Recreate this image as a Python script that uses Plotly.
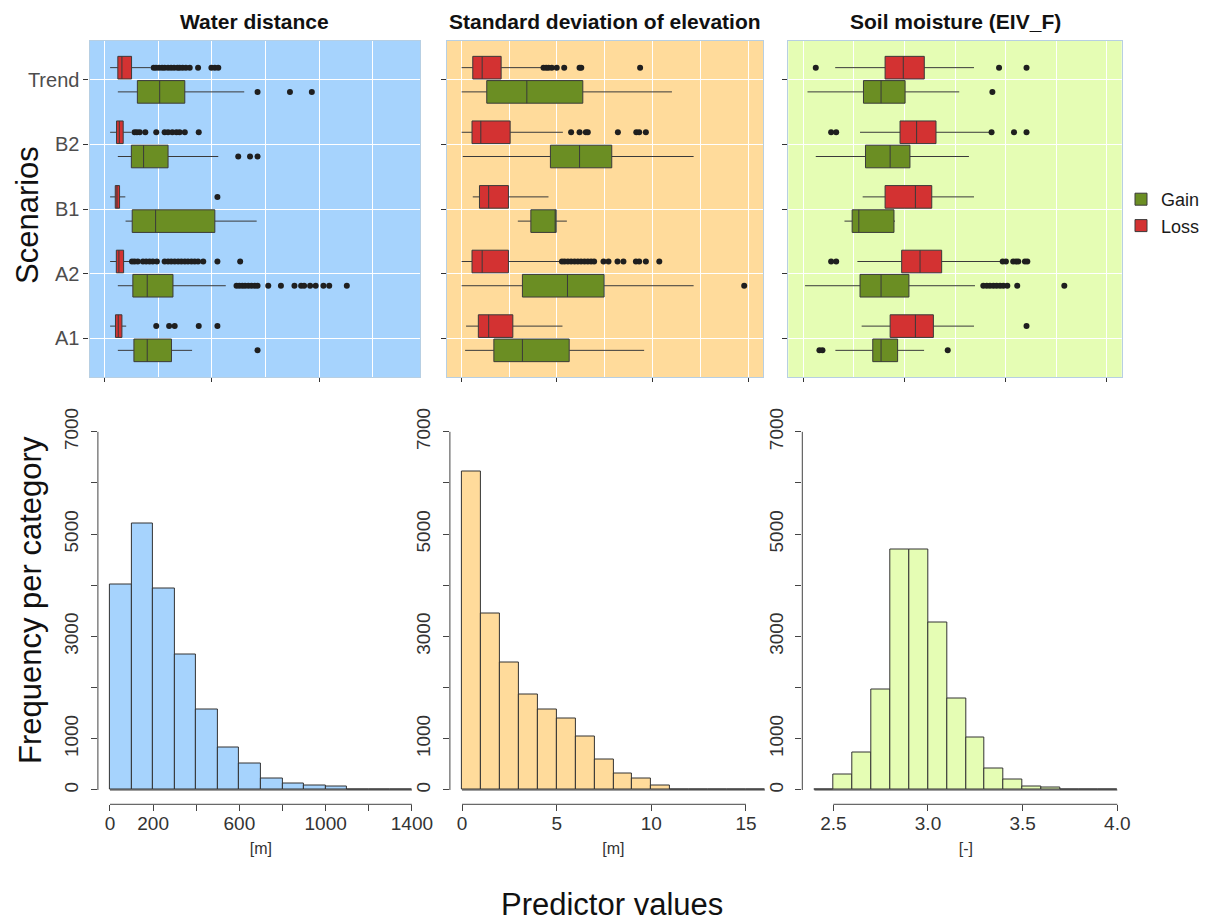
import plotly.graph_objects as go

FONT = "Liberation Sans, Arial, sans-serif"

scenarios = ["A1", "A2", "B1", "B2", "Trend"]

# ---------------- Box plot statistics (order: A1, A2, B1, B2, Trend) ----------------
# Water distance [m]
wd_gain_lf = [62, 62, 98, 62, 62]
wd_gain_q1 = [137, 132, 129, 125, 153]
wd_gain_med = [199, 199, 238, 182, 257]
wd_gain_q3 = [312, 319, 514, 296, 374]
wd_gain_uf = [408, 565, 709, 530, 651]
wd_gain_out = [
    [713],
    [615, 628, 642, 655, 670, 685, 700, 713, 763, 822, 885, 916, 930, 958, 984, 1020, 1047, 1129],
    [],
    [623, 678, 713],
    [713, 864, 966],
]
wd_loss_lf = [26, 26, 26, 26, 26]
wd_loss_q1 = [51, 55, 50, 56, 62]
wd_loss_med = [64, 67, 58, 69, 81]
wd_loss_q3 = [81, 89, 70, 87, 126]
wd_loss_uf = [101, 121, 97, 125, 215]
wd_loss_out = [
    [241, 301, 327, 439, 526],
    [128, 140, 155, 179, 194, 210, 225, 244, 280, 296, 311, 327, 343, 358, 374, 389, 405, 420, 436, 460, 526, 632],
    [526],
    [140, 151, 164, 190, 241, 280, 296, 316, 335, 350, 374, 439],
    [229, 240, 254, 268, 280, 296, 310, 324, 340, 350, 364, 379, 397, 436, 498, 514, 530],
]

# Standard deviation of elevation [m]
sd_gain_lf = [0.21, 0.03, 2.96, 0.09, 0.03]
sd_gain_q1 = [1.71, 3.20, 3.64, 4.66, 1.34]
sd_gain_med = [3.20, 5.55, 4.91, 6.18, 3.43]
sd_gain_q3 = [5.64, 7.46, 4.96, 7.86, 6.35]
sd_gain_uf = [9.55, 12.13, 5.52, 12.13, 11.0]
sd_gain_out = [[], [14.77], [], [], []]
sd_loss_lf = [0.26, 0.03, 0.61, 0.03, 0.03]
sd_loss_q1 = [0.90, 0.57, 0.96, 0.57, 0.61]
sd_loss_med = [1.44, 1.10, 1.44, 1.03, 1.10]
sd_loss_q3 = [2.70, 2.47, 2.47, 2.56, 2.09]
sd_loss_uf = [5.29, 5.20, 4.56, 5.31, 4.21]
sd_loss_out = [
    [],
    [5.26, 5.40, 5.57, 5.74, 5.92, 6.09, 6.26, 6.44, 6.61, 6.78, 6.94, 7.43, 7.69, 8.16, 8.47, 9.12, 9.29, 9.64, 10.34],
    [],
    [5.74, 6.18, 6.51, 6.61, 8.18, 9.14, 9.29, 9.64],
    [4.30, 4.44, 4.56, 4.73, 4.99, 5.38, 6.18, 6.27, 9.34],
]

# Soil moisture (EIV_F) [-]
sm_gain_lf = [2.658, 2.508, 2.703, 2.561, 2.520]
sm_gain_q1 = [2.843, 2.780, 2.741, 2.807, 2.797]
sm_gain_med = [2.884, 2.884, 2.774, 2.929, 2.884]
sm_gain_q3 = [2.966, 3.022, 2.948, 3.027, 3.003]
sm_gain_uf = [3.097, 3.349, 2.953, 3.319, 3.271]
sm_gain_out = [
    [2.579, 2.594, 3.214],
    [3.390, 3.407, 3.423, 3.440, 3.456, 3.473, 3.489, 3.509, 3.558, 3.791],
    [],
    [],
    [3.435],
]
sm_loss_lf = [2.788, 2.767, 2.793, 2.780, 2.657]
sm_loss_q1 = [2.929, 2.986, 2.904, 2.978, 2.904]
sm_loss_med = [3.054, 3.077, 3.054, 3.060, 2.994]
sm_loss_q3 = [3.143, 3.184, 3.135, 3.156, 3.098]
sm_loss_uf = [3.344, 3.477, 3.344, 3.420, 3.344]
sm_loss_out = [
    [3.604],
    [2.637, 2.662, 3.486, 3.502, 3.538, 3.552, 3.563, 3.596, 3.608],
    [],
    [2.637, 2.662, 3.431, 3.542, 3.604],
    [2.561, 3.468, 3.604],
]

# ---------------- Histograms ----------------
wd_breaks = [0, 100, 200, 300, 400, 500, 600, 700, 800, 900, 1000, 1100, 1200, 1300, 1400]
wd_counts = [4020, 5210, 3930, 2640, 1580, 830, 515, 220, 130, 85, 65, 12, 0, 0]
sd_breaks = [0, 1, 2, 3, 4, 5, 6, 7, 8, 9, 10, 11, 12, 13, 14, 15, 16]
sd_counts = [6220, 3440, 2495, 1870, 1565, 1400, 1040, 600, 325, 215, 85, 15, 8, 0, 0, 0]
sm_breaks = [2.4, 2.5, 2.6, 2.7, 2.8, 2.9, 3.0, 3.1, 3.2, 3.3, 3.4, 3.5, 3.6, 3.7, 3.8, 3.9, 4.0]
sm_counts = [15, 300, 735, 1955, 4700, 4700, 3275, 1790, 1020, 425, 210, 60, 45, 12, 0, 0]

wd_xticks = [0, 200, 400, 600, 800, 1000, 1200, 1400]
wd_xlabels = ["0", "200", "", "600", "", "1000", "", "1400"]
sd_xticks = [0, 5, 10, 15]
sd_xlabels = ["0", "5", "10", "15"]
sm_xticks = [2.5, 3.0, 3.5, 4.0]
sm_xlabels = ["2.5", "3.0", "3.5", "4.0"]
freq_ticks = [0, 1000, 2000, 3000, 4000, 5000, 6000, 7000]
freq_labels = ["0", "1000", "", "3000", "", "5000", "", "7000"]

titles = ["Water distance", "Standard deviation of elevation", "Soil moisture (EIV_F)"]
units = ["[m]", "[m]", "[-]"]

BG = ["#A6D3FD", "#FFDB9B", "#E5FDB4"]
GAIN_COL = "#6B8E23"
LOSS_COL = "#D33232"
LINE_COL = "#3a3a3a"

W, H = 1217, 921
DODGE = 0.1875   # centre offset of each box within a scenario (dodge width 0.75)
BOXW = 0.35      # box thickness in category units

def px_x(v):
    return v / W

def px_y(v):
    return 1 - v / H

top_dom_y = [px_y(377), px_y(41)]
top_dom_x = [[px_x(89.5), px_x(420)], [px_x(446.7), px_x(763)], [px_x(788.3), px_x(1121.7)]]
hist_dom_y = [px_y(804.3), px_y(417.5)]
hist_dom_x = [[px_x(97.9), px_x(424)], [px_x(449.9), px_x(777)], [px_x(802.3), px_x(1129.4)]]

top_limits = [(0, 1400), (0, 15), (2.5, 4.0)]
top_dtick = [500, 5, 0.5]

def expand(lim, f):
    d = (lim[1] - lim[0]) * f
    return [lim[0] - d, lim[1] + d]

pos = list(range(len(scenarios)))

fig = go.Figure()

panels = [
    (wd_gain_lf, wd_gain_q1, wd_gain_med, wd_gain_q3, wd_gain_uf, wd_gain_out,
     wd_loss_lf, wd_loss_q1, wd_loss_med, wd_loss_q3, wd_loss_uf, wd_loss_out),
    (sd_gain_lf, sd_gain_q1, sd_gain_med, sd_gain_q3, sd_gain_uf, sd_gain_out,
     sd_loss_lf, sd_loss_q1, sd_loss_med, sd_loss_q3, sd_loss_uf, sd_loss_out),
    (sm_gain_lf, sm_gain_q1, sm_gain_med, sm_gain_q3, sm_gain_uf, sm_gain_out,
     sm_loss_lf, sm_loss_q1, sm_loss_med, sm_loss_q3, sm_loss_uf, sm_loss_out),
]

for i, p in enumerate(panels):
    xa = "x" if i == 0 else f"x{i+1}"
    ya = "y" if i == 0 else f"y{i+1}"
    for name, col, sign, (lf, q1, med, q3, uf, out) in [
        ("Gain", GAIN_COL, -1, p[0:6]),
        ("Loss", LOSS_COL, 1, p[6:12]),
    ]:
        fig.add_trace(go.Box(
            name=name, legendgroup=name, showlegend=(i == 0),
            orientation="h", y=[q + sign * DODGE for q in pos], width=BOXW,
            lowerfence=lf, q1=q1, median=med, q3=q3, upperfence=uf,
            boxpoints=False, fillcolor=col, whiskerwidth=0,
            line=dict(color=LINE_COL, width=1),
            xaxis=xa, yaxis=ya,
        ))
        ox, oy = [], []
        for k, vals in enumerate(out):
            for v in vals:
                ox.append(v)
                oy.append(pos[k] + sign * DODGE)
        fig.add_trace(go.Scatter(
            x=ox, y=oy, mode="markers", showlegend=False, legendgroup=name,
            marker=dict(color="#1f1f1f", size=6, line=dict(width=0)),
            xaxis=xa, yaxis=ya,
        ))

hists = [(wd_breaks, wd_counts), (sd_breaks, sd_counts), (sm_breaks, sm_counts)]
for i, (br, ct) in enumerate(hists):
    xa = f"x{i+4}"
    ya = f"y{i+4}"
    centers = [(br[k] + br[k + 1]) / 2 for k in range(len(ct))]
    widths = [br[k + 1] - br[k] for k in range(len(ct))]
    fig.add_trace(go.Scatter(
        x=[br[0], br[-1]], y=[0, 0], mode="lines",
        line=dict(color="#333333", width=1), showlegend=False,
        hoverinfo="skip", xaxis=xa, yaxis=ya,
    ))
    fig.add_trace(go.Bar(
        x=centers, y=ct, width=widths,
        marker=dict(color=BG[i], line=dict(color="#333333", width=1)),
        showlegend=False, xaxis=xa, yaxis=ya,
    ))

layout = dict(
    width=W, height=H,
    margin=dict(l=0, r=0, t=0, b=0, autoexpand=False),
    paper_bgcolor="white", plot_bgcolor="rgba(0,0,0,0)",
    font=dict(family=FONT, color="#333333"),
    boxmode="overlay",
    bargap=0,
    legend=dict(
        x=px_x(1121), y=px_y(181), xanchor="left", yanchor="top",
        font=dict(size=18, color="#1a1a1a", family=FONT),
        bgcolor="rgba(0,0,0,0)", tracegroupgap=0,
    ),
)

shapes = []
annotations = []
for i in range(3):
    sx = "" if i == 0 else str(i + 1)
    layout[f"xaxis{sx}"] = dict(
        domain=top_dom_x[i], anchor=f"y{sx}", range=expand(top_limits[i], 0.05),
        tick0=0, dtick=top_dtick[i], showticklabels=False,
        ticks="outside", ticklen=4, tickcolor="#333333", tickwidth=1,
        showgrid=True, gridcolor="white", gridwidth=1.3,
        minor=dict(dtick=top_dtick[i] / 2, showgrid=True, gridcolor="white", gridwidth=0.6),
        zeroline=False, showline=True, mirror=True, linecolor="#b7cfe3", linewidth=1.2,
        fixedrange=True,
    )
    layout[f"yaxis{sx}"] = dict(
        domain=top_dom_y, anchor=f"x{sx}", range=[-0.6, len(scenarios) - 0.4],
        tickvals=pos, ticktext=scenarios,
        showticklabels=(i == 0), tickfont=dict(size=20, color="#4d4d4d", family=FONT),
        ticks="outside", ticklen=5, tickcolor="#333333", tickwidth=1,
        showgrid=True, gridcolor="white", gridwidth=1.3,
        zeroline=False, showline=True, mirror=True, linecolor="#b7cfe3", linewidth=1.2,
        fixedrange=True,
    )
    shapes.append(dict(
        type="rect", xref=f"x{sx} domain", yref=f"y{sx} domain",
        x0=0, x1=1, y0=0, y1=1, fillcolor=BG[i], line=dict(width=0), layer="below",
    ))
    annotations.append(dict(
        text=f"<b>{titles[i]}</b>", xref="paper", yref="paper",
        x=(top_dom_x[i][0] + top_dom_x[i][1]) / 2, y=px_y(21),
        showarrow=False, font=dict(size=21, color="#111111", family=FONT),
        xanchor="center", yanchor="middle",
    ))

hist_ticks = [(wd_xticks, wd_xlabels), (sd_xticks, sd_xlabels), (sm_xticks, sm_xlabels)]
for i, (br, ct) in enumerate(hists):
    n = i + 4
    tv, tt = hist_ticks[i]
    layout[f"xaxis{n}"] = dict(
        domain=hist_dom_x[i], anchor=f"y{n}", range=expand((br[0], br[-1]), 0.04),
        tickvals=tv, ticktext=tt, tickfont=dict(size=19, color="#333333", family=FONT),
        ticks="outside", ticklen=6, tickcolor="#444444", tickwidth=1,
        ticklabelstandoff=-4,
        showgrid=False, zeroline=False, showline=False, fixedrange=True,
        title=dict(text=units[i], font=dict(size=16, color="#333333", family=FONT), standoff=9),
    )
    layout[f"yaxis{n}"] = dict(
        domain=hist_dom_y, anchor=f"x{n}", range=expand((0, 7000), 0.04),
        tickvals=freq_ticks, ticktext=freq_labels, tickangle=-90,
        tickfont=dict(size=19, color="#333333", family=FONT),
        ticks="outside", ticklen=6, tickcolor="#444444", tickwidth=1,
        ticklabelstandoff=5,
        showgrid=False, zeroline=False, showline=False, fixedrange=True,
    )
    shapes.append(dict(
        type="line", xref=f"x{n}", yref=f"y{n} domain",
        x0=tv[0], x1=tv[-1], y0=0, y1=0, line=dict(color="#444444", width=1),
    ))
    shapes.append(dict(
        type="line", xref=f"x{n} domain", yref=f"y{n}",
        x0=0, x1=0, y0=freq_ticks[0], y1=freq_ticks[-1], line=dict(color="#444444", width=1),
    ))

annotations += [
    dict(text="Scenarios", xref="paper", yref="paper", x=px_x(27), y=px_y(215),
         textangle=-90, showarrow=False, xanchor="center", yanchor="middle",
         font=dict(size=31, color="#111111", family=FONT)),
    dict(text="Frequency per category", xref="paper", yref="paper", x=px_x(30), y=px_y(600),
         textangle=-90, showarrow=False, xanchor="center", yanchor="middle",
         font=dict(size=31, color="#111111", family=FONT)),
    dict(text="Predictor values", xref="paper", yref="paper", x=px_x(612), y=px_y(904),
         showarrow=False, xanchor="center", yanchor="middle",
         font=dict(size=31, color="#111111", family=FONT)),
]

layout["shapes"] = shapes
layout["annotations"] = annotations
fig.update_layout(**layout)

fig.write_html("out.html")
